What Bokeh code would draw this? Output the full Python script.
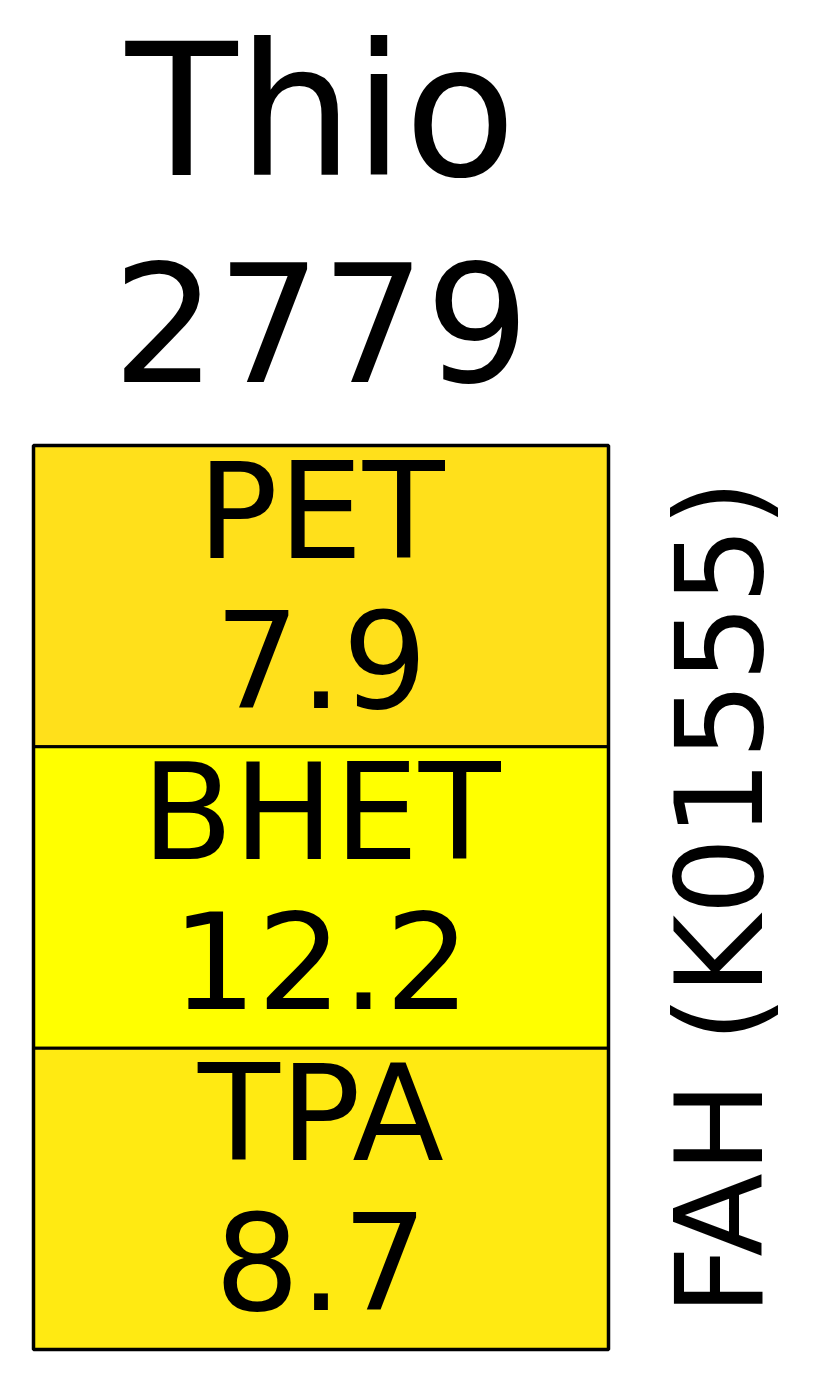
from bokeh.plotting import figure
from bokeh.models import Range1d, ColumnDataSource
from bokeh.core.properties import value
from bokeh.embed import file_html
from bokeh.resources import INLINE

# Data
title_top = "Thio"
title_bottom = "2779"
side_label = "FAH (K01555)"
categories = ["PET", "BHET", "TPA"]          # top to bottom
values = [7.9, 12.2, 8.7]
colors = ["#FFE01B", "#FFFF00", "#FFEA12"]

n = len(categories)
tops = [n - i for i in range(n)]
bottoms = [n - i - 1 for i in range(n)]
src = ColumnDataSource(dict(
    cat=categories,
    val=[f"{v:.1f}" for v in values],
    color=colors,
    top=tops,
    bottom=bottoms,
    yname=[b + 0.5 + 0.28 for b in bottoms],
    yval=[b + 0.5 - 0.207 for b in bottoms],
    x=[0.5] * n,
))

W, H = 816, 1380
p = figure(width=W, height=H, output_backend="svg", toolbar_location=None,
           min_border=0, min_border_left=0, min_border_right=0,
           min_border_top=0, min_border_bottom=0)
p.x_range = Range1d(-33 / 575, (W - 33) / 575)
p.y_range = Range1d(-(H - 1349) / 301.33, 3 + 445 / 301.33)
p.axis.visible = False
p.grid.visible = False
p.outline_line_color = None
p.background_fill_color = "white"
p.border_fill_color = "white"

p.quad(left=0, right=1, bottom="bottom", top="top", fill_color="color",
       line_color="black", line_width=3, source=src)
p.quad(left=[0], right=[1], bottom=[0], top=[n], fill_color=None,
       line_color="black", line_width=3.5)

font = value("DejaVu Sans")
p.text(x="x", y="yname", text="cat", source=src, text_font=font,
       text_font_size="134px", text_align="center", text_baseline="middle",
       text_color="black")
p.text(x="x", y="yval", text="val", source=src, text_font=font,
       text_font_size="134px", text_align="center", text_baseline="middle",
       text_color="black")

p.text(x=[0.5], y=[4.11], text=[title_top], text_font=font,
       text_font_size="183px", text_align="center", text_baseline="middle",
       text_color="black")
p.text(x=[0.5], y=[3.41], text=[title_bottom], text_font=font,
       text_font_size="164px", text_align="center", text_baseline="middle",
       text_color="black")
p.text(x=[1.194], y=[1.5], text=[side_label], text_font=font,
       text_font_size="122px", text_align="center", text_baseline="middle",
       angle=1.5708, text_color="black")

open("out.html", "w").write(file_html(p, INLINE))
